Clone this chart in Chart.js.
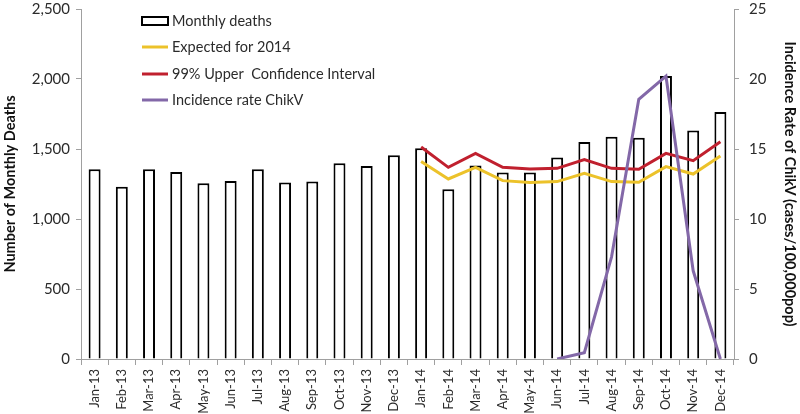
<!DOCTYPE html>
<html>
<head>
<meta charset="utf-8">
<script src="https://cdn.jsdelivr.net/npm/chart.js@4/dist/chart.umd.min.js"></script>
<style>
  html, body { margin: 0; padding: 0; background: #fff; }
  #wrap { width: 800px; height: 414px; }
</style>
</head>
<body>
<div id="wrap"><canvas id="deathsChart" width="800" height="414"></canvas></div>
<script>
const months = ["Jan-13", "Feb-13", "Mar-13", "Apr-13", "May-13", "Jun-13", "Jul-13", "Aug-13", "Sep-13", "Oct-13", "Nov-13", "Dec-13",
  "Jan-14", "Feb-14", "Mar-14", "Apr-14", "May-14", "Jun-14", "Jul-14", "Aug-14", "Sep-14", "Oct-14", "Nov-14", "Dec-14"];
const monthlyDeaths = [1356, 1231, 1356, 1336, 1255, 1271, 1356, 1260, 1267, 1398, 1379, 1455,
  1505, 1212, 1383, 1333, 1333, 1440, 1550, 1588, 1581, 2021, 1633, 1764];
const expected2014 = [null, null, null, null, null, null, null, null, null, null, null, null,
  1410, 1286, 1369, 1274, 1260, 1267, 1326, 1267, 1262, 1374, 1321, 1450];
const upperCI = [null, null, null, null, null, null, null, null, null, null, null, null,
  1514, 1369, 1469, 1369, 1357, 1362, 1424, 1362, 1355, 1469, 1417, 1552];
const chikvRate = [null, null, null, null, null, null, null, null, null, null, null, null,
  null, null, null, null, null, 0, 0.45, 7.3, 18.55, 20.2, 6.3, 0];

const leftTicks = [0, 500, 1000, 1500, 2000, 2500];
const rightTicks = [0, 5, 10, 15, 20, 25];

const axisGrey = "#a0a0a0";
const textDark = "#2b2b2b";
const fontFamily = "Lato, 'Open Sans', sans-serif";

// legend drawn inside the plot area, like the original
const insideLegend = {
  id: "insideLegend",
  afterDraw(chart) {
    const ctx = chart.ctx;
    const x0 = 142, x1 = 168, tx = 172;
    const rows = [21, 47, 74, 100];
    ctx.save();
    ctx.font = "14.5px " + fontFamily;
    ctx.textBaseline = "middle";
    chart.data.datasets.forEach((ds, i) => {
      const y = rows[i];
      if (ds.type === "bar") {
        ctx.strokeStyle = ds.borderColor;
        ctx.lineWidth = 2;
        ctx.fillStyle = "#fff";
        ctx.fillRect(x0, y - 4, x1 - x0, 8);
        ctx.strokeRect(x0, y - 4, x1 - x0, 8);
      } else {
        ctx.strokeStyle = ds.borderColor;
        ctx.lineWidth = 3;
        ctx.beginPath();
        ctx.moveTo(x0, y);
        ctx.lineTo(x1, y);
        ctx.stroke();
      }
      ctx.fillStyle = textDark;
      ctx.fillText(ds.label, tx, y);
    });
    ctx.restore();
  },
};

new Chart(document.getElementById("deathsChart"), {
  type: "bar",
  data: {
    labels: months,
    datasets: [
      {
        type: "bar",
        label: "Monthly deaths",
        data: monthlyDeaths,
        backgroundColor: "#ffffff",
        borderColor: "#000000",
        borderWidth: 2,
        barPercentage: 0.44,
        categoryPercentage: 1,
        yAxisID: "y",
        order: 4,
      },
      {
        type: "line",
        label: "Expected for 2014",
        data: expected2014,
        borderColor: "#ecc22a",
        borderWidth: 3,
        pointRadius: 0,
        tension: 0,
        yAxisID: "y",
        order: 3,
      },
      {
        type: "line",
        label: "99% Upper  Confidence Interval",
        data: upperCI,
        borderColor: "#c0202e",
        borderWidth: 3,
        pointRadius: 0,
        tension: 0,
        yAxisID: "y",
        order: 2,
      },
      {
        type: "line",
        label: "Incidence rate ChikV",
        data: chikvRate,
        borderColor: "#8368a8",
        borderWidth: 3,
        pointRadius: 0,
        tension: 0,
        yAxisID: "y2",
        order: 1,
      },
    ],
  },
  options: {
    responsive: false,
    animation: false,
    locale: "en-US",
    layout: { padding: { top: 9, left: 0, right: 0, bottom: 0 } },
    plugins: {
      legend: { display: false },
      tooltip: { enabled: false },
    },
    scales: {
      x: {
        grid: { offset: true, drawOnChartArea: false, tickLength: 6, color: axisGrey },
        border: { color: axisGrey },
        ticks: {
          color: textDark,
          font: { family: fontFamily, size: 13 },
          minRotation: 90,
          maxRotation: 90,
          autoSkip: false,
          padding: 4,
        },
        afterFit(scale) { scale.height = 55; },
      },
      y: {
        position: "left",
        min: 0,
        max: 2500,
        afterBuildTicks(scale) { scale.ticks = leftTicks.map((v) => ({ value: v })); },
        grid: { drawOnChartArea: false, tickLength: 5, color: axisGrey },
        border: { color: axisGrey },
        ticks: {
          color: textDark,
          font: { family: fontFamily, size: 15 },
          padding: 6,
          callback: (v) => v.toLocaleString("en-US"),
        },
        title: {
          display: true,
          text: "Number of Monthly Deaths",
          color: "#111",
          font: { family: fontFamily, size: 14.5, weight: "bold" },
          padding: { top: 2, bottom: 2 },
        },
        afterFit(scale) { scale.width = 81; scale.paddingTop = 0; scale.paddingBottom = 0; },
      },
      y2: {
        position: "right",
        min: 0,
        max: 25,
        afterBuildTicks(scale) { scale.ticks = rightTicks.map((v) => ({ value: v })); },
        grid: { drawOnChartArea: false, tickLength: 5, color: axisGrey },
        border: { color: axisGrey },
        ticks: {
          color: textDark,
          font: { family: fontFamily, size: 15 },
          padding: 10,
        },
        title: {
          display: true,
          text: "Incidence Rate of ChikV (cases/100,000pop)",
          color: "#111",
          font: { family: fontFamily, size: 14.5, weight: "bold" },
          padding: { top: 2, bottom: 0 },
        },
        afterFit(scale) { scale.width = 66; scale.paddingTop = 0; scale.paddingBottom = 0; },
      },
    },
  },
  plugins: [insideLegend],
});
</script>
</body>
</html>
